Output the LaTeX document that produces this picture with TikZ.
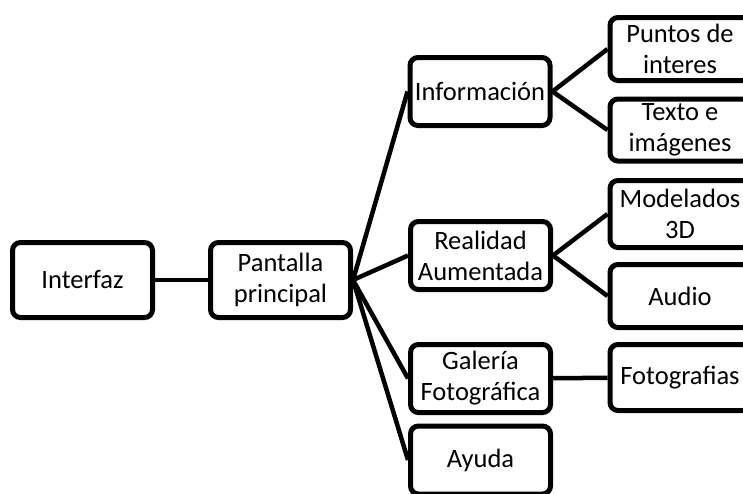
\documentclass[tikz,border=0pt]{standalone}
\usepackage{fontspec}
\setmainfont{Carlito}
\begin{document}
\begin{tikzpicture}[x=1pt,y=-1pt,
  box/.style={draw=black, line width=5pt, rounded corners=8pt, fill=white,
    minimum width=140pt, align=center, inner sep=0pt,
    font=\fontsize{26.5}{31}\selectfont},
  link/.style={line width=4.5pt}]
\useasboundingbox (0,0) rectangle (743,493);
\clip (0,0) rectangle (743,493);
\node[box, minimum height=75pt] (interfaz) at (82.5,280) {Interfaz};
\node[box, minimum height=75pt] (pantalla) at (280.5,280) {Pantalla\\principal};
\node[box, minimum height=68pt] (info) at (480,91.5) {Información};
\node[box, minimum height=68pt] (ra) at (480.5,255.5) {Realidad\\Aumentada};
\node[box, minimum height=68pt] (gal) at (480.5,378.5) {Galería\\Fotográfica};
\node[box, minimum height=68pt] (ayuda) at (480.5,460) {Ayuda};
\node[box, minimum height=63pt] (puntos) at (680,49) {Puntos de\\interes};
\node[box, minimum height=62pt] (texto) at (680,130) {Texto e\\imágenes};
\node[box, minimum height=67pt] (modelos) at (680,214) {Modelados\\3D};
\node[box, minimum height=63pt] (audio) at (680,296) {Audio};
\node[box, minimum height=66pt] (fotos) at (680,377.5) {Fotografias};
\draw[link] (interfaz) -- (pantalla);
\draw[link] (pantalla.east) -- (info.west);
\draw[link] (pantalla.east) -- (ra.west);
\draw[link] (pantalla.east) -- (gal.west);
\draw[link] (pantalla.east) -- (ayuda.west);
\draw[link] (info.east) -- (puntos.west);
\draw[link] (info.east) -- (texto.west);
\draw[link] (ra.east) -- (modelos.west);
\draw[link] (ra.east) -- (audio.west);
\draw[link] (gal) -- (fotos);
\end{tikzpicture}
\end{document}
